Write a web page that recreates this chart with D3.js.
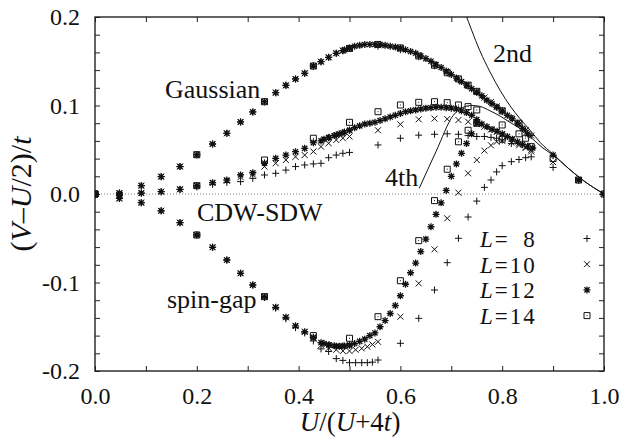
<!DOCTYPE html>
<html>
<head>
<meta charset="utf-8">
<script src="https://cdn.jsdelivr.net/npm/d3@7"></script>
<style>
  body { margin: 0; background: #fff; }
  svg text { font-family: "Liberation Serif", "Times New Roman", serif; fill: #111; }
</style>
</head>
<body>
<svg id="chart" width="623" height="437" font-family="Liberation Serif, serif"></svg>
<script>
// x = U/(U+4t) for the coarse U grid (U = 0 .. 4 in steps of 0.2)
const xLow = [0, 0.048, 0.091, 0.130, 0.167, 0.200, 0.231, 0.259, 0.286, 0.310, 0.333,
  0.355, 0.375, 0.394, 0.412, 0.429, 0.444, 0.459, 0.474, 0.487, 0.500]

const gaussLow = [0, 0.001, 0.0094, 0.0196, 0.031, 0.0444, 0.0565, 0.0686, 0.0814, 0.0927, 0.1043,
  0.1145, 0.1228, 0.1300, 0.1364, 0.1446, 0.1495, 0.1544, 0.1590, 0.1620, 0.1645]

const cdwLow12 = [0, -0.001, 0.001, 0.0026, 0.0053, 0.0094, 0.0128, 0.0158, 0.0215, 0.024, 0.0347,
  0.0403, 0.044, 0.0478, 0.0516, 0.058, 0.060, 0.0636, 0.0667, 0.069, 0.072]
const cdwLow10 = [0, -0.001, 0.001, 0.0026, 0.0053, 0.0094, 0.0125, 0.015, 0.019, 0.022, 0.031,
  0.0347, 0.0384, 0.042, 0.044, 0.048, 0.0535, 0.0573, 0.061, 0.063, 0.065]
const cdwLow8 = [0, -0.001, 0.001, 0.0026, 0.005, 0.008, 0.011, 0.013, 0.014, 0.0177, 0.0215,
  0.0234, 0.027, 0.031, 0.0328, 0.034, 0.0347, 0.041, 0.044, 0.046, 0.047]

const spinLow12 = [0, -0.005, -0.0098, -0.019, -0.0324, -0.0463, -0.0602, -0.0746, -0.0896, -0.1028, -0.116,
  -0.128, -0.1393, -0.149, -0.1556, -0.162, -0.168, -0.1706, -0.172, -0.1718, -0.1706]
const spinLow10 = [0, -0.005, -0.0098, -0.019, -0.0324, -0.0463, -0.0602, -0.0746, -0.0896, -0.1028, -0.116,
  -0.128, -0.1393, -0.149, -0.1556, -0.163, -0.171, -0.174, -0.176, -0.1774, -0.1774]
const spinLow8 = [0, -0.005, -0.0098, -0.019, -0.0324, -0.0463, -0.0602, -0.0746, -0.0896, -0.1028, -0.117,
  -0.129, -0.141, -0.151, -0.157, -0.166, -0.175, -0.178, -0.186, -0.188, -0.1906]

// L=14 only has integer U on the low part
const xLow14 = [0, 0.200, 0.333, 0.429, 0.500]
const gaussLow14 = [0, 0.0444, 0.1043, 0.1446, 0.1645]
const cdwLow14 = [0, 0.0094, 0.0384, 0.063, 0.081]
const spinLow14 = [0, -0.0463, -0.116, -0.160, -0.163]

const l8Gauss = [[0.556, 0.167], [0.600, 0.163], [0.636, 0.155], [0.667, 0.145], [0.692, 0.137], [0.714, 0.129],
  [0.733, 0.122], [0.750, 0.115], [0.765, 0.108], [0.778, 0.103], [0.789, 0.098], [0.800, 0.093], [0.818, 0.086],
  [0.833, 0.079], [0.846, 0.072], [0.857, 0.066]]
const l8Cdw = [[0.556, 0.0554], [0.600, 0.063], [0.636, 0.0665], [0.667, 0.0675], [0.692, 0.068], [0.714, 0.0675],
  [0.733, 0.066], [0.750, 0.065], [0.765, 0.065], [0.778, 0.064], [0.789, 0.063], [0.800, 0.061], [0.818, 0.057]]
const l8Spin = [[0.512, -0.1906], [0.524, -0.1906], [0.535, -0.1906], [0.545, -0.190], [0.556, -0.1876],
  [0.600, -0.1687], [0.636, -0.1405], [0.667, -0.1085], [0.692, -0.0776], [0.714, -0.050], [0.733, -0.026],
  [0.750, -0.008], [0.765, 0.0075], [0.778, 0.0158], [0.789, 0.025], [0.800, 0.032], [0.818, 0.0365],
  [0.833, 0.039], [0.846, 0.041], [0.857, 0.042]]
const l8Tail = [[0.9, 0.030], [0.95, 0.0158], [1.0, 0]]

const l10Gauss = [[0.556, 0.168], [0.600, 0.164], [0.636, 0.156], [0.667, 0.146], [0.692, 0.138], [0.714, 0.130],
  [0.733, 0.123], [0.750, 0.116], [0.765, 0.109], [0.778, 0.104], [0.789, 0.099], [0.800, 0.094], [0.818, 0.086],
  [0.833, 0.079], [0.846, 0.072], [0.857, 0.066]]
const l10Cdw = [[0.556, 0.072], [0.600, 0.0787], [0.636, 0.0844], [0.667, 0.0852], [0.692, 0.0847], [0.714, 0.0836],
  [0.733, 0.0817], [0.750, 0.079], [0.765, 0.076], [0.778, 0.073], [0.789, 0.070], [0.800, 0.067], [0.818, 0.062],
  [0.833, 0.057], [0.846, 0.053], [0.857, 0.050]]
const l10Spin = [[0.512, -0.176], [0.524, -0.1745], [0.535, -0.1725], [0.545, -0.170], [0.556, -0.167],
  [0.600, -0.1386], [0.636, -0.101], [0.667, -0.0625], [0.692, -0.0275], [0.714, 0.0015], [0.733, 0.0234],
  [0.750, 0.0384], [0.765, 0.049], [0.778, 0.055], [0.789, 0.059], [0.800, 0.060], [0.818, 0.058],
  [0.833, 0.055], [0.846, 0.052], [0.857, 0.048]]
const l10Tail = [[0.9, 0.036], [0.95, 0.0158], [1.0, 0]]

const l12Gauss = [[0.49, 0.163], [0.50, 0.165], [0.51, 0.167], [0.52, 0.168], [0.53, 0.169], [0.54, 0.169],
  [0.55, 0.169], [0.56, 0.169], [0.57, 0.168], [0.58, 0.167], [0.59, 0.166], [0.60, 0.165], [0.61, 0.163],
  [0.62, 0.161], [0.63, 0.159], [0.64, 0.156], [0.65, 0.153], [0.66, 0.150], [0.67, 0.146], [0.68, 0.143],
  [0.69, 0.139], [0.70, 0.135], [0.71, 0.131], [0.72, 0.127], [0.73, 0.123], [0.74, 0.119], [0.75, 0.115],
  [0.76, 0.111], [0.77, 0.106], [0.78, 0.102], [0.79, 0.098], [0.80, 0.094], [0.81, 0.089], [0.82, 0.085],
  [0.83, 0.080], [0.84, 0.074], [0.85, 0.068]]
const l12Cdw = [[0.45, 0.062], [0.46, 0.064], [0.47, 0.066], [0.48, 0.068], [0.49, 0.070], [0.50, 0.072],
  [0.51, 0.075], [0.52, 0.077], [0.53, 0.079], [0.54, 0.080], [0.55, 0.081], [0.56, 0.083], [0.57, 0.085],
  [0.58, 0.087], [0.59, 0.089], [0.60, 0.091], [0.61, 0.093], [0.62, 0.094], [0.63, 0.095], [0.64, 0.096],
  [0.65, 0.097], [0.66, 0.0975], [0.67, 0.098], [0.68, 0.098], [0.69, 0.0975], [0.70, 0.097], [0.71, 0.096],
  [0.72, 0.094], [0.73, 0.092], [0.74, 0.089], [0.75, 0.084], [0.76, 0.079], [0.77, 0.076], [0.78, 0.073],
  [0.79, 0.071], [0.80, 0.068], [0.81, 0.065], [0.82, 0.062], [0.83, 0.059], [0.84, 0.056], [0.85, 0.054],
  [0.86, 0.052]]
const l12Spin = [[0.45, -0.169], [0.46, -0.1705], [0.47, -0.1715], [0.48, -0.172], [0.49, -0.1718],
  [0.50, -0.171], [0.51, -0.169], [0.52, -0.1665], [0.53, -0.164], [0.54, -0.160], [0.55, -0.157],
  [0.56, -0.150], [0.57, -0.143], [0.58, -0.135], [0.59, -0.126], [0.60, -0.115], [0.61, -0.102],
  [0.62, -0.089], [0.63, -0.078], [0.64, -0.065], [0.65, -0.051], [0.66, -0.037], [0.67, -0.023],
  [0.68, -0.010], [0.69, 0.004], [0.70, 0.020], [0.71, 0.034], [0.72, 0.046], [0.73, 0.057],
  [0.74, 0.068], [0.75, 0.080]]
const l12Tail = [[0.9, 0.044], [0.95, 0.0158], [1.0, 0]]

const l14Gauss = [[0.556, 0.169], [0.600, 0.165], [0.636, 0.156], [0.667, 0.1455], [0.692, 0.137], [0.714, 0.130],
  [0.733, 0.123], [0.750, 0.116], [0.800, 0.094], [0.833, 0.080]]
const l14Cdw = [[0.556, 0.093], [0.600, 0.1006], [0.636, 0.1036], [0.667, 0.1043], [0.692, 0.1032], [0.714, 0.1006],
  [0.733, 0.0987], [0.750, 0.095]]
const l14Spin = [[0.556, -0.1386], [0.600, -0.098], [0.636, -0.0527], [0.667, -0.0075], [0.692, 0.028],
  [0.714, 0.059], [0.733, 0.072], [0.750, 0.080]]
const l14Tail = [[0.800, 0.078], [0.800, 0.062], [0.833, 0.068], [0.846, 0.063], [0.857, 0.0535],
  [0.9, 0.040], [0.95, 0.0158], [1.0, 0]]

// perturbation curves
const line2nd = [[0.727, 0.205], [0.740, 0.185], [0.756, 0.162], [0.776, 0.138], [0.796, 0.117], [0.815, 0.100],
  [0.835, 0.085], [0.855, 0.072], [0.875, 0.058], [0.900, 0.045], [0.930, 0.029], [0.960, 0.015], [1.0, 0]]
const line4th = [[0.637, 0.0064], [0.670, 0.048], [0.704, 0.089], [0.720, 0.097], [0.740, 0.100], [0.756, 0.099],
  [0.776, 0.094], [0.796, 0.088], [0.815, 0.081], [0.835, 0.074], [0.860, 0.062], [0.880, 0.052], [0.900, 0.044],
  [0.930, 0.029], [0.960, 0.015], [1.0, 0]]

const legendLabels = ['8', '10', '12', '14']

function zip(xs, ys) {
  return ys.map((y, i) => [xs[i], y])
}

const series = [
  { label: legendLabels[0], symbol: 'plus',
    points: [...zip(xLow, gaussLow), ...zip(xLow, cdwLow8), ...zip(xLow, spinLow8), ...l8Gauss, ...l8Cdw, ...l8Spin, ...l8Tail] },
  { label: legendLabels[1], symbol: 'cross',
    points: [...zip(xLow, gaussLow), ...zip(xLow, cdwLow10), ...zip(xLow, spinLow10), ...l10Gauss, ...l10Cdw, ...l10Spin, ...l10Tail] },
  { label: legendLabels[2], symbol: 'star',
    points: [...zip(xLow, gaussLow), ...zip(xLow, cdwLow12), ...zip(xLow, spinLow12), ...l12Gauss, ...l12Cdw, ...l12Spin, ...l12Tail] },
  { label: legendLabels[3], symbol: 'square',
    points: [...zip(xLow14, gaussLow14), ...zip(xLow14, cdwLow14), ...zip(xLow14, spinLow14), ...l14Gauss, ...l14Cdw, ...l14Spin, ...l14Tail] }
]

const serif = '"Liberation Serif", "Times New Roman", serif'
const plotLeft = 95, plotRight = 604, plotTop = 17, plotBottom = 371

const x = d3.scaleLinear().domain([0, 1]).range([plotLeft, plotRight])
const y = d3.scaleLinear().domain([-0.2, 0.2]).range([plotBottom, plotTop])

const svg = d3.select('#chart')

svg.append('defs').append('clipPath').attr('id', 'plot-clip')
  .append('rect')
  .attr('x', plotLeft).attr('y', plotTop)
  .attr('width', plotRight - plotLeft).attr('height', plotBottom - plotTop)

const xTicks = d3.range(0, 11).map(i => i / 10)
const yTicks = d3.range(-10, 11).map(i => i * 0.02)

function xLabel(d) {
  const k = Math.round(d * 10)
  return k % 2 === 0 ? (k / 10).toFixed(1) : ''
}

function yLabel(d) {
  const k = d * 10
  return Math.abs(k - Math.round(k)) < 1e-6 ? (Math.round(k) / 10).toFixed(1) : ''
}

function styleAxis(g) {
  g.attr('font-family', serif)
  g.select('.domain').remove()
  g.selectAll('.tick line').attr('stroke', '#222').attr('stroke-width', 1)
  g.selectAll('.tick text').attr('font-size', 24).attr('fill', '#111')
    .style('font-family', serif)
}

svg.append('g')
  .attr('transform', `translate(0,${plotBottom})`)
  .call(d3.axisBottom(x).tickValues(xTicks).tickSizeInner(-5).tickSizeOuter(0).tickPadding(16).tickFormat(xLabel))
  .call(styleAxis)

svg.append('g')
  .attr('transform', `translate(0,${plotTop})`)
  .call(d3.axisTop(x).tickValues(xTicks).tickSizeInner(-5).tickSizeOuter(0).tickFormat(''))
  .call(styleAxis)

svg.append('g')
  .attr('transform', `translate(${plotLeft},0)`)
  .call(d3.axisLeft(y).tickValues(yTicks).tickSizeInner(-5).tickSizeOuter(0).tickPadding(15).tickFormat(yLabel))
  .call(styleAxis)

svg.append('g')
  .attr('transform', `translate(${plotRight},0)`)
  .call(d3.axisRight(y).tickValues(yTicks).tickSizeInner(-5).tickSizeOuter(0).tickFormat(''))
  .call(styleAxis)

// zero line
svg.append('line')
  .attr('x1', plotLeft).attr('x2', plotRight)
  .attr('y1', y(0)).attr('y2', y(0))
  .attr('stroke', '#666').attr('stroke-width', 0.8)
  .attr('stroke-dasharray', '1,2')

// frame
svg.append('rect')
  .attr('x', plotLeft).attr('y', plotTop)
  .attr('width', plotRight - plotLeft).attr('height', plotBottom - plotTop)
  .attr('fill', 'none').attr('stroke', '#222').attr('stroke-width', 1.4)

const plot = svg.append('g').attr('clip-path', 'url(#plot-clip)')

const line = d3.line().x(d => x(d[0])).y(d => y(d[1])).curve(d3.curveMonotoneX)

plot.append('path').attr('d', line(line2nd))
  .attr('fill', 'none').attr('stroke', '#111').attr('stroke-width', 1)
plot.append('path').attr('d', line(line4th))
  .attr('fill', 'none').attr('stroke', '#111').attr('stroke-width', 1)

const symbolPaths = {
  plus: 'M-3.5,0H3.5M0,-3.5V3.5',
  cross: 'M-3,-3L3,3M-3,3L3,-3',
  star: 'M-3.5,0H3.5M0,-3.5V3.5M-2.6,-2.6L2.6,2.6M-2.6,2.6L2.6,-2.6',
  square: 'M-3,-3H3V3H-3Z'
}

function drawSymbol(g, kind) {
  g.append('path')
    .attr('d', symbolPaths[kind])
    .attr('fill', 'none')
    .attr('stroke', '#111')
    .attr('stroke-width', kind === 'star' ? 1.3 : 1)
  if (kind === 'square') {
    g.append('rect').attr('x', -0.5).attr('y', -0.5).attr('width', 1).attr('height', 1).attr('fill', '#111')
  }
}

series.forEach(s => {
  plot.append('g')
    .selectAll('g')
    .data(s.points)
    .enter()
    .append('g')
    .attr('transform', d => `translate(${x(d[0])},${y(d[1])})`)
    .each(function () {
      drawSymbol(d3.select(this), s.symbol)
    })
})

// curve and region labels
const labels = [
  { text: 'Gaussian', x: 165, y: 98 },
  { text: 'CDW-SDW', x: 197, y: 221 },
  { text: 'spin-gap', x: 167, y: 308 },
  { text: '2nd', x: 493, y: 62 },
  { text: '4th', x: 385, y: 186 }
]

svg.append('g')
  .selectAll('text')
  .data(labels)
  .enter()
  .append('text')
  .attr('x', d => d.x)
  .attr('y', d => d.y)
  .attr('font-size', 26)
  .style('font-family', serif)
  .text(d => d.text)

// legend, single-digit label padded with a figure space like gnuplot
const legend = svg.append('g').style('font-family', serif)
series.forEach((s, i) => {
  const baseline = 247 + i * 25.7
  const t = legend.append('text').attr('x', 480).attr('y', baseline)
    .attr('font-size', 23).attr('letter-spacing', 2)
  t.append('tspan').attr('font-style', 'italic').text('L')
  t.append('tspan').text('=' + (s.label.length === 1 ? '\u2007' : '') + s.label)
  const g = legend.append('g').attr('transform', `translate(587,${baseline - 8.5})`)
  drawSymbol(g, s.symbol)
})

// axis titles
const xt = svg.append('text')
  .attr('x', 350).attr('y', 431)
  .attr('text-anchor', 'middle')
  .attr('font-size', 27)
  .style('font-family', serif)
xt.append('tspan').attr('font-style', 'italic').text('U')
xt.append('tspan').text('/(')
xt.append('tspan').attr('font-style', 'italic').text('U')
xt.append('tspan').text('+4')
xt.append('tspan').attr('font-style', 'italic').text('t')
xt.append('tspan').text(')')

const yt = svg.append('text')
  .attr('transform', 'translate(31,194) rotate(-90)')
  .attr('text-anchor', 'middle')
  .attr('font-size', 30)
  .style('font-family', serif)
yt.append('tspan').text('(')
yt.append('tspan').attr('font-style', 'italic').text('V')
yt.append('tspan').text('\u2013')
yt.append('tspan').attr('font-style', 'italic').text('U')
yt.append('tspan').text('/2)/')
yt.append('tspan').attr('font-style', 'italic').text('t')
</script>
</body>
</html>
